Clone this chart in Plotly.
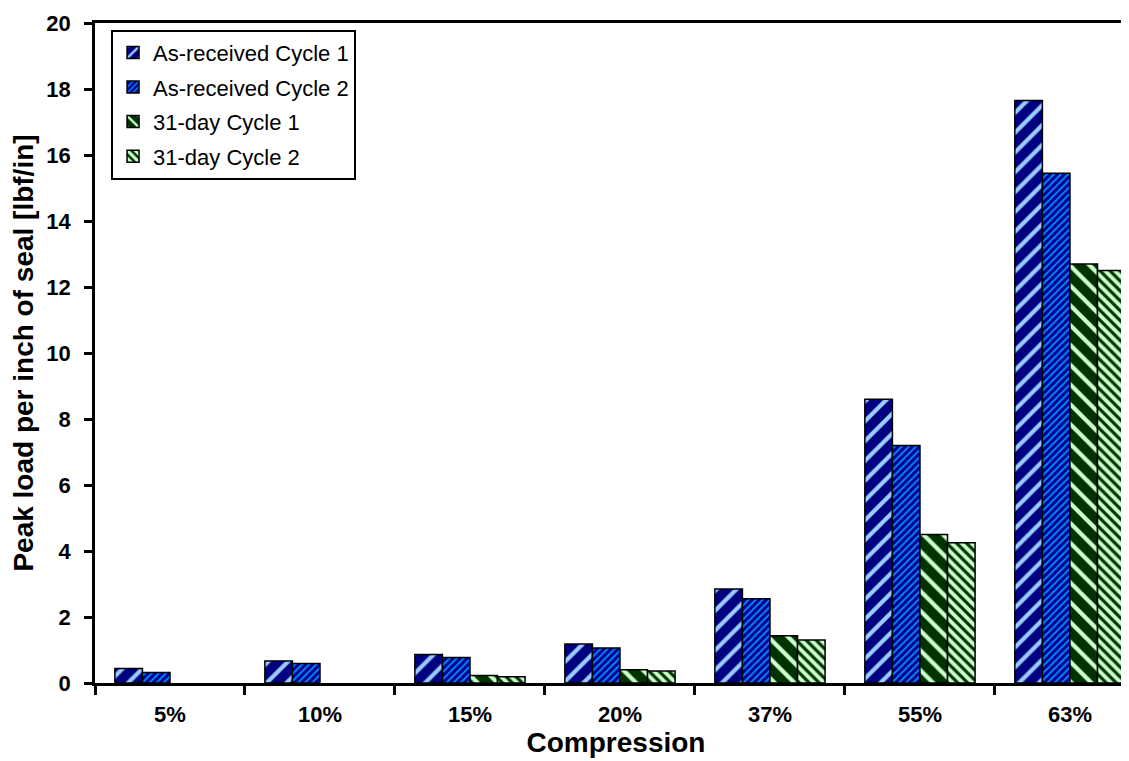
import plotly.graph_objects as go

# compression levels and peak loads [lbf/in]
compression = ["5%", "10%", "15%", "20%", "37%", "55%", "63%"]
ar_cycle1 = [0.44, 0.67, 0.86, 1.18, 2.85, 8.6, 17.65]
ar_cycle2 = [0.32, 0.59, 0.77, 1.06, 2.55, 7.2, 15.45]
d31_cycle1 = [None, None, 0.23, 0.4, 1.43, 4.5, 12.7]
d31_cycle2 = [None, None, 0.19, 0.36, 1.3, 4.25, 12.5]

series = [
    ("As-received Cycle 1", ar_cycle1, "#000080", "#99CCFF", "/", 14, 0.3),
    ("As-received Cycle 2", ar_cycle2, "#000099", "#0090F0", "/", 5, 0.35),
    ("31-day Cycle 1", d31_cycle1, "#003300", "#CCFFCC", "\\", 14, 0.3),
    ("31-day Cycle 2", d31_cycle2, "#003300", "#CCFFCC", "\\", 7, 0.55),
]

fig = go.Figure()
for i, (name, vals, bg, fg, shape, size, sol) in enumerate(series):
    fig.add_trace(go.Bar(
        x=compression, y=vals, name=name, legendgroup=str(i),
        marker=dict(
            color=bg,
            line=dict(color="black", width=1.5),
            pattern=dict(shape=shape, bgcolor=bg, fgcolor=fg, size=size,
                         solidity=sol, fillmode="replace"),
        ),
    ))

font_fam = "Arial, Liberation Sans, sans-serif"
fig.update_layout(
    width=1129, height=761,
    margin=dict(l=87, r=0, t=15, b=86),
    plot_bgcolor="white", paper_bgcolor="white",
    barmode="group", bargap=0.265, bargroupgap=0,
    font=dict(family=font_fam, color="black"),
    legend=dict(
        x=0.0154, y=0.99, xanchor="left", yanchor="top",
        bordercolor="black", borderwidth=2, bgcolor="white",
        font=dict(size=22), tracegroupgap=3, itemwidth=30,
    ),
)
fig.update_xaxes(
    range=[-0.5, 6.447], tickson="boundaries",
    showline=True, linecolor="black", linewidth=2.5, mirror=True,
    ticks="outside", ticklen=9, tickwidth=2.5, tickcolor="black",
    ticklabelstandoff=10,
    tickfont=dict(size=22, weight="bold"),
    title=dict(text="<b>Compression</b>", font=dict(size=28), standoff=4),
    showgrid=False, automargin=False,
)
fig.update_yaxes(
    range=[0, 20], dtick=2,
    showline=True, linecolor="black", linewidth=2.5,
    ticks="outside", ticklen=8, tickwidth=2.5, tickcolor="black",
    ticklabelstandoff=9,
    tickfont=dict(size=22, weight="bold"),
    title=dict(text="<b>Peak load per inch of seal [lbf/in]</b>", font=dict(size=28), standoff=8),
    showgrid=False, zeroline=False, automargin=False,
)

fig.write_html("out.html")
